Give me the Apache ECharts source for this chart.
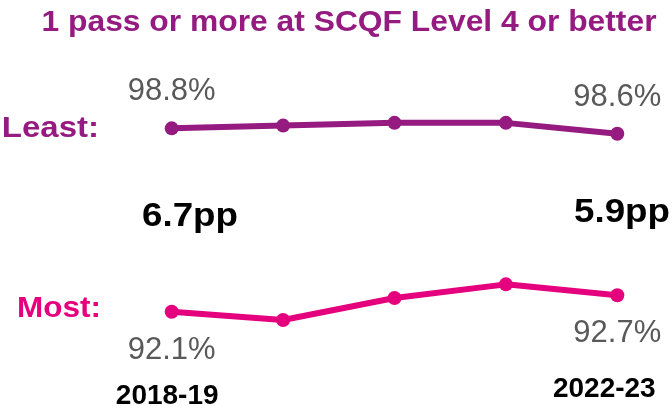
<!DOCTYPE html>
<html>
<head>
<meta charset="utf-8">
<script src="https://cdn.jsdelivr.net/npm/echarts@6/dist/echarts.min.js"></script>
<style>
  html, body { margin: 0; padding: 0; background: #fff; }
  #chart { width: 672px; height: 406px; }
</style>
</head>
<body>
<div id="chart"></div>
<script>
// school years, only first and last are labelled
const years = ["2018-19", "2019-20", "2020-21", "2021-22", "2022-23"];
// % of leavers with 1 pass or more at SCQF level 4 or better
const leastDeprived = [98.8, 98.9, 99.0, 99.0, 98.6];
const mostDeprived = [92.1, 91.8, 92.6, 93.1, 92.7];
const gapLabels = ["6.7pp", "5.9pp"];

const PURPLE = "#951B81";
const PINK = "#E5007E";
const GREY = "#595959";
const FONT = "Liberation Sans, Arial, sans-serif";

const chart = echarts.init(document.getElementById("chart"));

// show value label only at both ends
const endLabel = (pos, dist) => ({
    show: true,
    position: pos,
    distance: dist,
    fontFamily: FONT,
    fontSize: 31,
    color: GREY,
    formatter: p => (p.dataIndex === 0 || p.dataIndex === years.length - 1) ? p.value.toFixed(1) + "%" : ""
});

const option = {
    animation: false,
    grid: { left: 171.7, right: 54.7, top: 95.5, bottom: 36.8, outerBoundsMode: "none" },
    xAxis: {
        type: "category",
        boundaryGap: false,
        data: years.map((y, i) => ({
            value: y,
            textStyle: i === 0 ? { padding: [7, 9, 0, 0] } : { padding: [0, 26, 0, 0] }
        })),
        axisLine: { show: false },
        axisTick: { show: false },
        axisLabel: {
            interval: (i) => i === 0 || i === years.length - 1,
            margin: 6,
            verticalAlign: "top",
            fontFamily: FONT,
            fontWeight: "bold",
            fontSize: 28,
            color: "#000"
        }
    },
    yAxis: {
        type: "value",
        min: 90,
        max: 100,
        show: false
    },
    series: [
        {
            name: "Least",
            type: "line",
            data: leastDeprived,
            symbol: "circle",
            symbolSize: 14,
            lineStyle: { color: PURPLE, width: 6 },
            itemStyle: { color: PURPLE },
            label: endLabel("top", 14)
        },
        {
            name: "Most",
            type: "line",
            data: mostDeprived,
            symbol: "circle",
            symbolSize: 14,
            lineStyle: { color: PINK, width: 6 },
            itemStyle: { color: PINK },
            label: endLabel("bottom", 16)
        }
    ],
    graphic: [
        {
            type: "text", x: 349, y: 23, scaleX: 1.06,
            style: { text: "1 pass or more at SCQF Level 4 or better", fill: PURPLE, font: "bold 30px " + FONT, align: "center", verticalAlign: "middle" }
        },
        {
            type: "text", x: 99, y: 129, scaleX: 1.1,
            style: { text: "Least:", fill: PURPLE, font: "bold 30px " + FONT, align: "right", verticalAlign: "middle" }
        },
        {
            type: "text", x: 101, y: 309, scaleX: 1.05,
            style: { text: "Most:", fill: PINK, font: "bold 30px " + FONT, align: "right", verticalAlign: "middle" }
        },
        {
            type: "text", x: 190, y: 217, scaleX: 1.08,
            style: { text: gapLabels[0], fill: "#000", font: "bold 34px " + FONT, align: "center", verticalAlign: "middle" }
        },
        {
            type: "text", x: 622, y: 213, scaleX: 1.08,
            style: { text: gapLabels[1], fill: "#000", font: "bold 34px " + FONT, align: "center", verticalAlign: "middle" }
        }
    ]
};

chart.setOption(option);
</script>
</body>
</html>
